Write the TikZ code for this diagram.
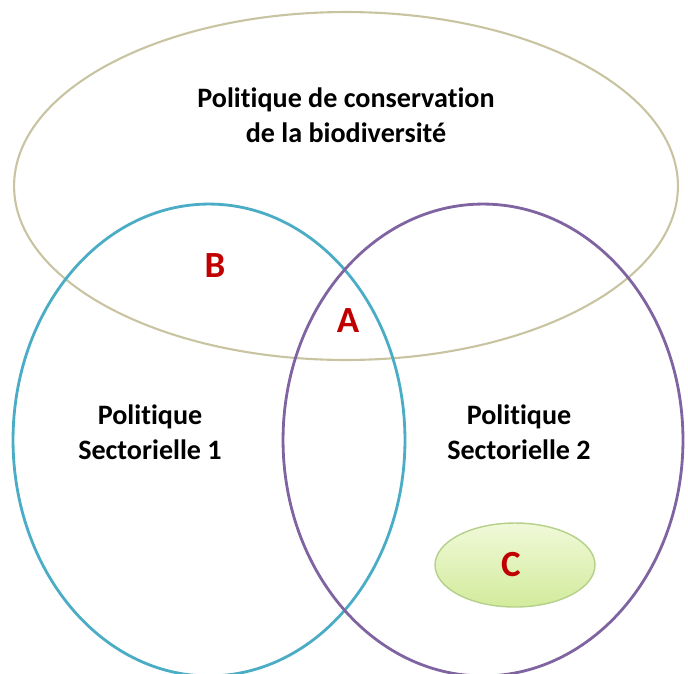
\documentclass[tikz,border=0pt]{standalone}
\usepackage{fontspec}
\setmainfont[Ligatures=NoCommon]{Carlito}
\usepackage{tikz}
\usetikzlibrary{shapes.geometric}

\definecolor{bioline}{HTML}{C8C4A2}
\definecolor{secteurun}{HTML}{4BACC6}
\definecolor{secteurdeux}{HTML}{8064A2}
\definecolor{zonerouge}{HTML}{C00000}
\definecolor{zonehaut}{HTML}{F0F9D8}
\definecolor{zonebas}{HTML}{D2EB9C}
\definecolor{zonebord}{HTML}{B5D08A}

\begin{document}
\begin{tikzpicture}[x=0.02cm,y=-0.02cm,
	titre/.style={font=\fontsize{16}{20}\selectfont\bfseries,align=center},
	lettre/.style={font=\fontsize{21}{24}\selectfont\bfseries,text=zonerouge}]
	\useasboundingbox (0,0) rectangle (688,673);
	\clip (0,0) rectangle (688,673);
	\node[ellipse,draw=bioline,line width=1.2pt,minimum width=13.28cm,minimum height=6.96cm] (bio) at (346,186) {};
	\node[ellipse,draw=secteurun,line width=1.6pt,minimum width=7.84cm,minimum height=9.44cm] (sect1) at (209,440) {};
	\node[ellipse,draw=secteurdeux,line width=1.6pt,minimum width=8cm,minimum height=9.44cm] (sect2) at (483,440) {};
	\node[ellipse,draw=zonebord,line width=0.8pt,top color=zonehaut,bottom color=zonebas,minimum width=3.2cm,minimum height=1.68cm] (zonec) at (515,565) {};
	\node[titre] (titrebio) at (346,115) {Politique de conservation\\de la biodiversité};
	\node[titre] (titre1) at (150,432) {Politique\\Sectorielle 1};
	\node[titre] (titre2) at (519,432) {Politique\\Sectorielle 2};
	\node[lettre] (b) at (215,266) {B};
	\node[lettre] (a) at (348,321) {A};
	\node[lettre] (c) at (511,565) {C};
\end{tikzpicture}
\end{document}
